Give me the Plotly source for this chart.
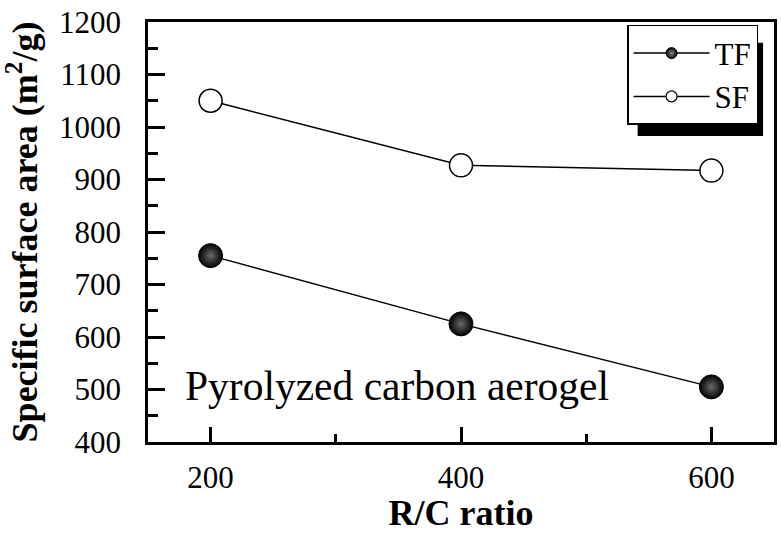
import plotly.graph_objects as go

rc_ratio = [200, 400, 600]
tf_area = [755, 625, 505]
sf_area = [1050, 927, 917]
series_names = ["TF", "SF"]
x_ticks = [200, 400, 600]
y_ticks = [400, 500, 600, 700, 800, 900, 1000, 1100, 1200]

FONT = "Liberation Serif"

fig = go.Figure()
fig.add_trace(go.Scatter(
    x=rc_ratio, y=tf_area, name=series_names[0], mode="lines+markers", showlegend=False,
    line=dict(color="black", width=1.5),
    marker=dict(size=24, color="black", symbol="circle",
                gradient=dict(type="radial", color="#6a6a6a"),
                line=dict(color="black", width=1)),
))
fig.add_trace(go.Scatter(
    x=rc_ratio, y=sf_area, name=series_names[1], mode="lines+markers", showlegend=False,
    line=dict(color="black", width=1.5),
    marker=dict(size=23, color="white", symbol="circle",
                line=dict(color="black", width=1.5)),
))
# legend entries (smaller symbols, as in the original legend)
fig.add_trace(go.Scatter(
    x=[None], y=[None], name=series_names[0], mode="lines+markers",
    line=dict(color="black", width=1.5),
    marker=dict(size=11, color="black", gradient=dict(type="radial", color="#8a8a8a"),
                line=dict(color="black", width=1)),
))
fig.add_trace(go.Scatter(
    x=[None], y=[None], name=series_names[1], mode="lines+markers",
    line=dict(color="black", width=1.5),
    marker=dict(size=11, color="white", line=dict(color="black", width=1.2)),
))

axis_common = dict(
    showgrid=False, zeroline=False, showline=True, linecolor="black", linewidth=2.5,
    mirror=True, ticks="inside", tickcolor="black", tickwidth=2.5,
    tickfont=dict(family=FONT, size=31, color="black"),
    ticklabeloverflow="allow",
)

fig.update_layout(
    width=782, height=533,
    margin=dict(l=148, r=5, t=15, b=91),
    plot_bgcolor="white", paper_bgcolor="white",
    font=dict(family=FONT, color="black"),
    showlegend=True,
    legend=dict(
        x=(761 - 148) / 629, xanchor="right", y=1 - (18 - 15) / 427, yanchor="top",
        bgcolor="white", bordercolor="black", borderwidth=1.5,
        font=dict(family=FONT, size=31, color="black"),
        tracegroupgap=0, itemwidth=76,
    ),
    xaxis=dict(
        **axis_common, range=[150, 650], tickmode="array", tickvals=x_ticks, ticklen=15,
        ticklabelstandoff=6,
        minor=dict(dtick=100, tick0=200, ticks="inside", ticklen=8, tickwidth=2.5, tickcolor="black"),
        title=dict(text="<b>R/C ratio</b>", font=dict(family=FONT, size=36, color="black"), standoff=8),
    ),
    yaxis=dict(
        **axis_common, range=[400, 1200], tickmode="array", tickvals=y_ticks, ticklen=17,
        ticklabelstandoff=18,
        minor=dict(dtick=50, tick0=400, ticks="inside", ticklen=10, tickwidth=2.5, tickcolor="black"),
        title=dict(text="<b>Specific surface area (m<sup>2</sup>/g)</b>",
                   font=dict(family=FONT, size=36, color="black"), standoff=12),
    ),
    annotations=[dict(
        text="Pyrolyzed carbon aerogel", xref="paper", yref="paper",
        x=(183 - 148) / 629, y=1 - (385 - 15) / 427, xanchor="left", yanchor="middle", showarrow=False,
        font=dict(family=FONT, size=41.5, color="black"),
    )],
    shapes=[dict(
        type="rect", xref="paper", yref="paper",
        x0=(640 - 148) / 629, x1=(766 - 148) / 629,
        y0=1 - (131 - 15) / 427, y1=1 - (36 - 15) / 427,
        fillcolor="black", line=dict(width=0), layer="above",
    )],
)

fig.write_html("out.html", config={"displayModeBar": False},
               post_script="document.body.style.margin='0';document.body.style.padding='0';")
